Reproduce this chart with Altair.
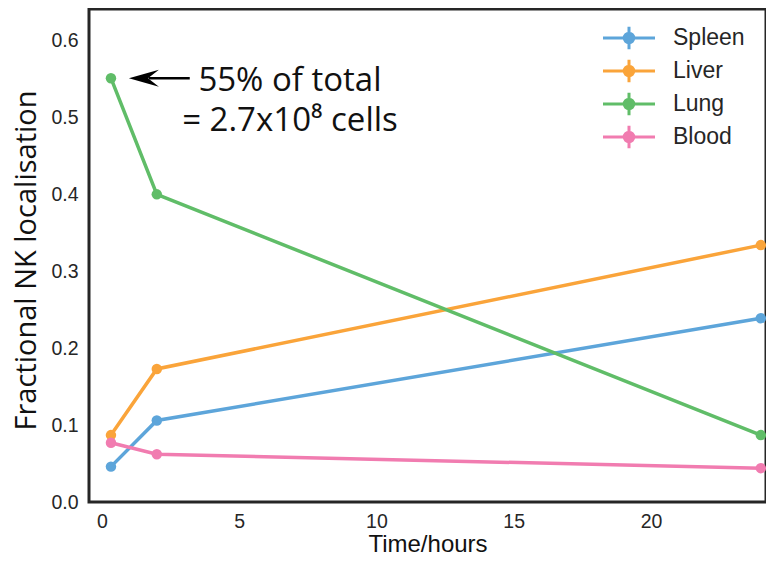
import altair as alt
import pandas as pd

# ---- data ----
times = [0.33, 2, 24]
organs = ["Spleen", "Liver", "Lung", "Blood"]
spleen = [0.046, 0.106, 0.239]
liver = [0.087, 0.173, 0.334]
lung = [0.551, 0.400, 0.087]
blood = [0.077, 0.062, 0.044]
colors = ["#5DA5DA", "#FAA43A", "#60BD68", "#F17CB0"]

x_ticks = [0, 5, 10, 15, 20]
y_ticks = [0.0, 0.1, 0.2, 0.3, 0.4, 0.5, 0.6]
x_domain = [-0.47, 24.19]
y_domain = [0, 0.641]

# annotation (data coordinates)
note_lines = ["55% of total", "= 2.7x10\u2078 cells"]
note_x, note_y = [6.85], [0.548]
arrow_tail = [3.2]
arrow_line_start = [1.7]
arrow_head_x = [1.53]
arrow_y = [0.551]

rows = []
for name, vals in zip(organs, [spleen, liver, lung, blood]):
    for t, v in zip(times, vals):
        rows.append({"organ": name, "time": t, "frac": v})
df = pd.DataFrame(rows)

xs = alt.Scale(domain=x_domain, nice=False, zero=False)
ys = alt.Scale(domain=y_domain, nice=False, zero=False)
cs = alt.Scale(domain=organs, range=colors)

# legend glyph: line with error-bar cross and dot (unit r = 12.5 px)
legend_path = ("M-2.08,0L2.08,0M0,-0.9L0,0.9"
               "M0.38,0A0.38,0.38,0,1,1,-0.38,0A0.38,0.38,0,1,1,0.38,0Z")

x_enc = alt.X("time:Q", scale=xs,
              axis=alt.Axis(values=x_ticks, format="d", title="Time/hours",
                            ticks=False, domain=False, grid=False,
                            labelPadding=10, titlePadding=2))
y_enc = alt.Y("frac:Q", scale=ys,
              axis=alt.Axis(values=y_ticks, format=".1f",
                            title="Fractional NK localisation",
                            ticks=False, domain=False, grid=False,
                            labelPadding=11, titlePadding=9, titleY=251,
                            titleFont="Open Sans", titleFontSize=29))

lines = alt.Chart(df).mark_line(strokeWidth=3.5).encode(
    x=x_enc, y=y_enc,
    color=alt.Color("organ:N", scale=cs, sort=organs,
                    legend=alt.Legend(title=None, orient="none",
                                      legendX=526, legendY=15,
                                      symbolType=legend_path, symbolSize=625,
                                      symbolStrokeWidth=3, labelOffset=30,
                                      rowPadding=-3, labelFontSize=23,
                                      labelFont="Liberation Sans",
                                      labelColor="#262626")),
    detail="organ:N",
)
points = alt.Chart(df).mark_point(filled=True, size=110, opacity=1).encode(
    x="time:Q", y="frac:Q",
    color=alt.Color("organ:N", scale=cs, legend=None),
)

ann_df = pd.DataFrame({"x": note_x, "y": note_y})
note = alt.Chart(ann_df).mark_text(
    text=note_lines, align="center", baseline="middle", lineHeight=40,
    font="Open Sans", fontSize=33, color="#111"
).encode(x=alt.X("x:Q", scale=xs), y=alt.Y("y:Q", scale=ys))

arr_df = pd.DataFrame({"x": arrow_line_start, "x2": arrow_tail, "y": arrow_y,
                       "hx": arrow_head_x})
arrow_line = alt.Chart(arr_df).mark_rule(strokeWidth=2.5, color="black").encode(
    x=alt.X("x:Q", scale=xs), x2="x2:Q", y=alt.Y("y:Q", scale=ys))
arrow_head = alt.Chart(arr_df).mark_point(
    shape="M-1,0L1,-0.57L0.27,0L1,0.57Z", size=900, filled=True,
    color="black", opacity=1
).encode(x=alt.X("hx:Q", scale=xs), y=alt.Y("y:Q", scale=ys))

chart = alt.layer(lines, points, arrow_line, arrow_head, note).properties(
    width=677, height=493, autosize="none", background="white",
    padding={"left": 81, "top": 1, "right": 0, "bottom": 53},
).configure_view(
    stroke="#262626", strokeWidth=3
).configure_axis(
    labelFont="Liberation Sans", labelFontSize=19.5, labelColor="#262626",
    titleFont="Liberation Sans", titleFontSize=24, titleColor="#111",
    titleFontWeight="normal",
)

chart.save("out.html", embed_options={"renderer": "svg", "actions": False})
